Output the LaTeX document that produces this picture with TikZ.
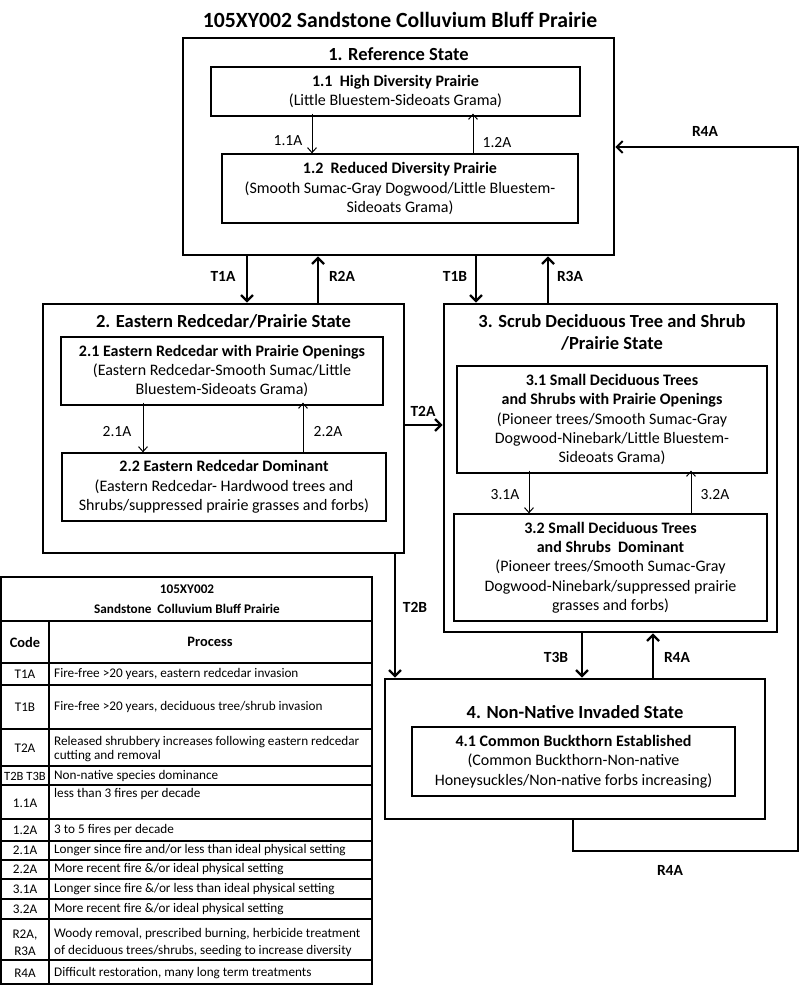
\documentclass[tikz,border=0pt]{standalone}
\usepackage{fontspec}
\setmainfont{Carlito}
\usetikzlibrary{arrows.meta}
\begin{document}
\begin{tikzpicture}[x=1pt,y=-1pt,
  statebox/.style={draw, line width=2.6pt, inner sep=0pt},
  subbox/.style={draw, line width=1.3pt, align=center, inner sep=0pt, font=\fontsize{16}{19.3}\selectfont},
  statetitle/.style={font=\bfseries\fontsize{18.5}{22}\selectfont, align=center, inner sep=0pt},
  bigarrow/.style={line width=2.4pt, -{Straight Barb[length=6pt,width=12pt]}},
  loopline/.style={line width=2pt, -{Straight Barb[length=6pt,width=12pt]}},
  smallarrow/.style={line width=1pt, -{Straight Barb[length=5pt,width=9pt]}},
  biglabel/.style={font=\bfseries\fontsize{15.5}{17}\selectfont, inner sep=0pt},
  smalllabel/.style={font=\fontsize{15.5}{17}\selectfont, inner sep=0pt},
  tabline/.style={line width=1.2pt},
  tabtext/.style={font=\fontsize{13.2}{14.5}\selectfont, inner sep=0pt, align=left},
  tabcode/.style={font=\fontsize{13.2}{14.5}\selectfont, inner sep=0pt, align=center},
]
\useasboundingbox (0,0) rectangle (800,993);
\fill[white] (0,0) rectangle (800,993);

% title
\node[font=\bfseries\fontsize{21.7}{25}\selectfont, inner sep=0pt] (title) at (400,20) {105XY002 Sandstone Colluvium Bluff Prairie};

% State 1
\node[statebox, minimum width=431pt, minimum height=217pt] (s1) at (398.5,146.5) {};
\node[statetitle] (s1t) at (398.5,54) {1. Reference State};
\node[subbox, minimum width=369pt, minimum height=49pt] (b11) at (395.5,91.5)
  {\textbf{1.1 \ High Diversity Prairie}\\(Little Bluestem-Sideoats Grama)};
\node[subbox, minimum width=356pt, minimum height=69pt] (b12) at (400,188.5)
  {\textbf{1.2 \ Reduced Diversity Prairie}\\(Smooth Sumac-Gray Dogwood/Little Bluestem-\\Sideoats Grama)};
\coordinate (x11) at (312,0);
\coordinate (x12) at (473,0);
\draw[smallarrow] ([yshift=3pt]b11.south -| x11) -- (b12.north -| x11);
\draw[smallarrow] (b12.north -| x12) -- ([yshift=3pt]b11.south -| x12);
\node[smalllabel] (l11) at (288,141) {1.1A};
\node[smalllabel] (l12) at (497,143) {1.2A};

% State 2
\node[statebox, minimum width=361pt, minimum height=249pt] (s2) at (223.5,428.5) {};
\node[statetitle] (s2t) at (223.5,321) {2. Eastern Redcedar/Prairie State};
\node[subbox, minimum width=322pt, minimum height=68pt] (b21) at (222,371)
  {\textbf{2.1 Eastern Redcedar with Prairie Openings}\\(Eastern Redcedar-Smooth Sumac/Little\\Bluestem-Sideoats Grama)};
\node[subbox, minimum width=324pt, minimum height=68pt] (b22) at (224,487)
  {\textbf{2.2 Eastern Redcedar Dominant}\\(Eastern Redcedar- Hardwood trees and\\Shrubs/suppressed prairie grasses and forbs)};
\coordinate (x21) at (143,0);
\coordinate (x22) at (303,0);
\draw[smallarrow] ([yshift=3pt]b21.south -| x21) -- (b22.north -| x21);
\draw[smallarrow] (b22.north -| x22) -- ([yshift=3pt]b21.south -| x22);
\node[smalllabel] (l21) at (117,432) {2.1A};
\node[smalllabel] (l22) at (328,432) {2.2A};

% State 3
\node[statebox, minimum width=333pt, minimum height=328pt] (s3) at (610.5,468) {};
\node[statetitle] (s3t) at (612,332) {3. Scrub Deciduous Tree and Shrub\\/Prairie State};
\node[subbox, minimum width=310pt, minimum height=107pt] (b31) at (612,419.5)
  {\textbf{3.1 Small Deciduous Trees}\\\textbf{and Shrubs with Prairie Openings}\\(Pioneer trees/Smooth Sumac-Gray\\Dogwood-Ninebark/Little Bluestem-\\Sideoats Grama)};
\node[subbox, minimum width=313pt, minimum height=107pt] (b32) at (610.5,567.5)
  {\textbf{3.2 Small Deciduous Trees}\\\textbf{and Shrubs \ Dominant}\\(Pioneer trees/Smooth Sumac-Gray\\Dogwood-Ninebark/suppressed prairie\\grasses and forbs)};
\coordinate (x31) at (529,0);
\coordinate (x32) at (691,0);
\draw[smallarrow] ([yshift=3pt]b31.south -| x31) -- (b32.north -| x31);
\draw[smallarrow] (b32.north -| x32) -- ([yshift=3pt]b31.south -| x32);
\node[smalllabel] (l31) at (505,495) {3.1A};
\node[smalllabel] (l32) at (715,495) {3.2A};

% State 4
\node[statebox, minimum width=380pt, minimum height=140pt] (s4) at (575,749) {};
\node[statetitle] (s4t) at (575,712) {4. Non-Native Invaded State};
\node[subbox, minimum width=323pt, minimum height=69pt] (b41) at (573.5,761.5)
  {\textbf{4.1 Common Buckthorn Established}\\(Common Buckthorn-Non-native\\Honeysuckles/Non-native forbs increasing)};

% transitions
\coordinate (xt1a) at (247,0);
\coordinate (xr2a) at (318,0);
\coordinate (xt1b) at (476,0);
\coordinate (xr3a) at (548,0);
\coordinate (yt2a) at (0,425);
\coordinate (xt2b) at (395,0);
\coordinate (xt3b) at (582,0);
\coordinate (xr4a) at (653,0);
\draw[bigarrow] (s1.south -| xt1a) -- (s2.north -| xt1a);
\draw[bigarrow] (s2.north -| xr2a) -- (s1.south -| xr2a);
\draw[bigarrow] (s1.south -| xt1b) -- (s3.north -| xt1b);
\draw[bigarrow] (s3.north -| xr3a) -- (s1.south -| xr3a);
\draw[bigarrow] (s2.east |- yt2a) -- (s3.west |- yt2a);
\draw[bigarrow] (s2.south -| xt2b) -- (s4.north -| xt2b);
\draw[bigarrow] (s3.south -| xt3b) -- (s4.north -| xt3b);
\draw[bigarrow] (s4.north -| xr4a) -- (s3.south -| xr4a);
\coordinate (lb) at (573,851);
\coordinate (rb) at (798,851);
\coordinate (rt) at (798,147);
\draw[loopline] (s4.south -| lb) -- (lb) -- (rb) -- (rt) -- (s1.east |- rt);

\node[biglabel] (lt1a) at (223,276) {T1A};
\node[biglabel] (lr2a) at (342,276) {R2A};
\node[biglabel] (lt1b) at (455,276) {T1B};
\node[biglabel] (lr3a) at (570,276) {R3A};
\node[biglabel] (lt2a) at (423,411) {T2A};
\node[biglabel] (lt2b) at (415,607) {T2B};
\node[biglabel] (lt3b) at (556,657) {T3B};
\node[biglabel] (lr4a) at (677,657) {R4A};
\node[biglabel] (lr4b) at (705,131) {R4A};
\node[biglabel] (lr4c) at (670,870) {R4A};

% table
\draw[tabline] (1,577) rectangle (372,984);
\foreach \yy in {621,663,685,729,766,785,819,841,860,879,899,919,960}
  \draw[tabline] (1,\yy) -- (372,\yy);
\draw[tabline] (49,621) -- (49,984);
\node[tabcode, font=\bfseries\fontsize{13.2}{20}\selectfont] (th) at (187,599) {105XY002\\Sandstone \ Colluvium Bluff Prairie};
\node[tabcode, font=\bfseries\fontsize{14.4}{16}\selectfont] (tc) at (25,642) {Code};
\node[tabcode, font=\bfseries\fontsize{14.4}{16}\selectfont] (tp) at (210,642) {Process};

\node[tabcode] (c1) at (25,674) {T1A};
\node[tabtext, anchor=west] (p1) at (54,674) {Fire-free >20 years, eastern redcedar invasion};
\node[tabcode] (c2) at (25,707) {T1B};
\node[tabtext, anchor=west] (p2) at (54,707) {Fire-free >20 years, deciduous tree/shrub invasion};
\node[tabcode] (c3) at (25,748) {T2A};
\node[tabtext, anchor=west] (p3) at (54,749) {Released shrubbery increases following eastern redcedar\\cutting and removal};
\node[tabcode, font=\fontsize{12.6}{14.5}\selectfont] (c4) at (25,776) {T2B T3B};
\node[tabtext, anchor=west] (p4) at (54,776) {Non-native species dominance};
\node[tabcode] (c5) at (25,803) {1.1A};
\node[tabtext, anchor=west] (p5) at (54,794) {less than 3 fires per decade};
\node[tabcode] (c6) at (25,830) {1.2A};
\node[tabtext, anchor=west] (p6) at (54,830) {3 to 5 fires per decade};
\node[tabcode] (c7) at (25,850) {2.1A};
\node[tabtext, anchor=west] (p7) at (54,850) {Longer since fire and/or less than ideal physical setting};
\node[tabcode] (c8) at (25,869) {2.2A};
\node[tabtext, anchor=west] (p8) at (54,869) {More recent fire \&/or ideal physical setting};
\node[tabcode] (c9) at (25,889) {3.1A};
\node[tabtext, anchor=west] (p9) at (54,889) {Longer since fire \&/or less than ideal physical setting};
\node[tabcode] (c10) at (25,909) {3.2A};
\node[tabtext, anchor=west] (p10) at (54,909) {More recent fire \&/or ideal physical setting};
\node[tabcode, font=\fontsize{13.2}{17}\selectfont] (c11) at (25,943) {R2A,\\R3A};
\node[tabtext, anchor=west, font=\fontsize{13.2}{17}\selectfont] (p11) at (54,943) {Woody removal, prescribed burning, herbicide treatment\\of deciduous trees/shrubs, seeding to increase diversity};
\node[tabcode] (c12) at (25,973) {R4A};
\node[tabtext, anchor=west] (p12) at (54,973) {Difficult restoration, many long term treatments};
\end{tikzpicture}
\end{document}
